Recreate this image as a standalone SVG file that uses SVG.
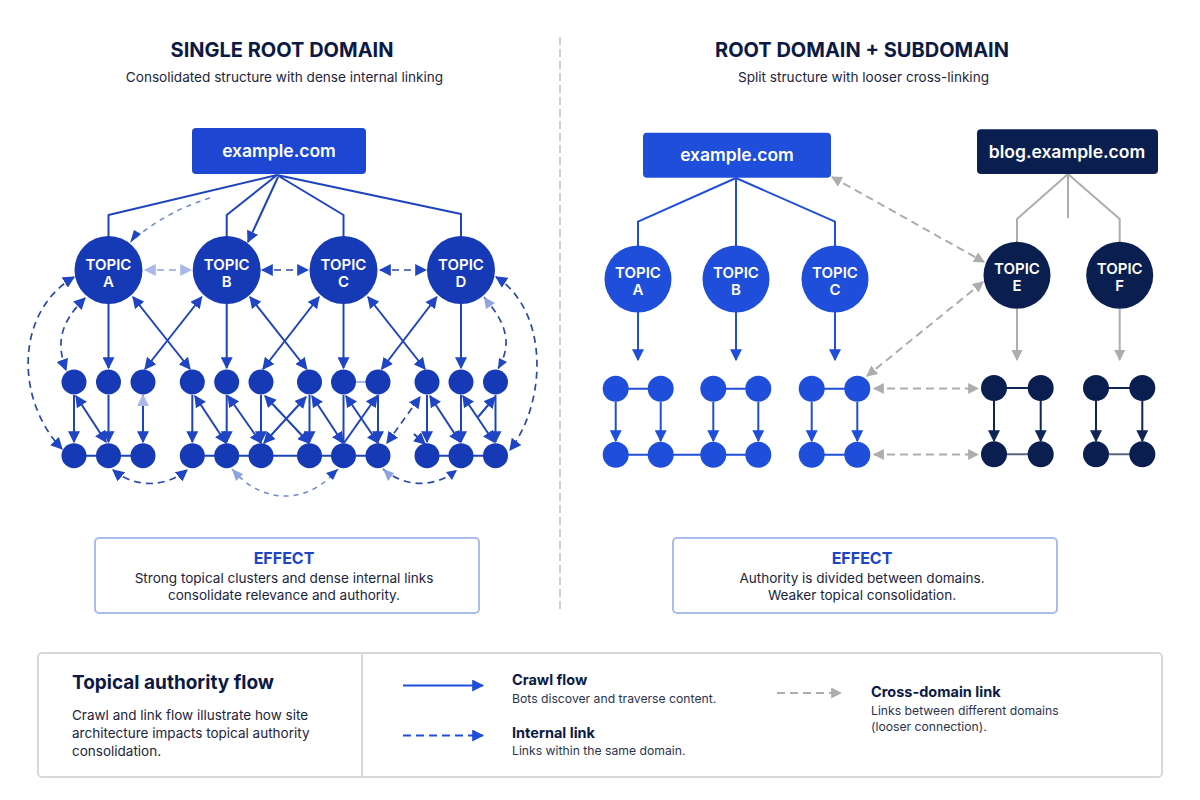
<svg xmlns="http://www.w3.org/2000/svg" width="1200" height="800" viewBox="0 0 1200 800">
<style>
text{font-family:Inter,"Liberation Sans",sans-serif}
.title{font-size:20px;font-weight:700;fill:#0b1a45;text-anchor:middle}
.sub{font-size:13.6px;fill:#1b2540;text-anchor:middle}
.root{font-size:17.5px;font-weight:600;fill:#fff;text-anchor:middle}
.tp{font-size:15px;font-weight:600;fill:#fff;text-anchor:middle}
.eh{font-size:16px;font-weight:700;fill:#1c45c4;text-anchor:middle}
.eb{font-size:13.55px;fill:#1b2540;text-anchor:middle}
.lh{font-size:14.5px;font-weight:700;fill:#0b1a45}
.ld{font-size:12.2px;fill:#2a3350}
.ln{fill:none;stroke-linejoin:round}
.d{fill:#1639b6}.b{fill:#1f4edb}.n{fill:#0a1f50}
.s{stroke:#1d44bd;stroke-width:2}
.sb{stroke:#1f4edb;stroke-width:2}
.sn{stroke:#0e2558;stroke-width:2}
.dash{stroke:#2a49ad;stroke-width:1.7;stroke-dasharray:7 5}
.pale{stroke:#a9b8e8;stroke-width:2;stroke-dasharray:7 5}
.fade{stroke:#6f86cf;stroke-width:1.5;stroke-dasharray:5 5}
.g{stroke:#adadad;stroke-width:2}
.gd{stroke:#adadad;stroke-width:2;stroke-dasharray:8 5}
.arr{marker-end:url(#ma)}
.bi{marker-start:url(#ma);marker-end:url(#ma)}
.arrb{marker-end:url(#mb)}
.arrn{marker-end:url(#mn)}
.arrg{marker-end:url(#mg)}
.big{marker-start:url(#mg);marker-end:url(#mg)}
.bip{marker-start:url(#mp);marker-end:url(#mp)}
</style>
<defs>
<marker id="ma" viewBox="0 0 10 10" refX="9" refY="5" markerWidth="12" markerHeight="12" markerUnits="userSpaceOnUse" orient="auto-start-reverse"><path d="M0 0L10 5L0 10Z" fill="#1f45c4"/></marker>
<marker id="mb" viewBox="0 0 10 10" refX="9" refY="5" markerWidth="12" markerHeight="12" markerUnits="userSpaceOnUse" orient="auto-start-reverse"><path d="M0 0L10 5L0 10Z" fill="#1f4edb"/></marker>
<marker id="mn" viewBox="0 0 10 10" refX="9" refY="5" markerWidth="12" markerHeight="12" markerUnits="userSpaceOnUse" orient="auto-start-reverse"><path d="M0 0L10 5L0 10Z" fill="#0e2558"/></marker>
<marker id="mg" viewBox="0 0 10 10" refX="9" refY="5" markerWidth="11" markerHeight="11" markerUnits="userSpaceOnUse" orient="auto-start-reverse"><path d="M0 0L10 5L0 10Z" fill="#adadad"/></marker>
<marker id="mp" viewBox="0 0 10 10" refX="9" refY="5" markerWidth="12" markerHeight="12" markerUnits="userSpaceOnUse" orient="auto-start-reverse"><path d="M0 0L10 5L0 10Z" fill="#a9b8e8"/></marker>
</defs>
<rect width="1200" height="800" fill="#fff"/>

<g id="headings">
<text class="title" x="282" y="57">SINGLE ROOT DOMAIN</text>
<text class="sub" x="284.500" y="82">Consolidated structure with dense internal linking</text>
<text class="title" x="862" y="57">ROOT DOMAIN + SUBDOMAIN</text>
<text class="sub" x="863.500" y="82">Split structure with looser cross-linking</text>
</g>
<line id="divider" x1="560" y1="37" x2="560" y2="613" stroke="#cfcfcf" stroke-width="2" stroke-dasharray="8 4"/>

<g id="connectors" class="ln">
<!-- left: root to topics -->
<path class="s" d="M277 175L108.500 215V237M277 175L226.700 215V237M277 175L343.500 215V237M277 175L461 214V237"/>
<path class="s arr" d="M278 177L248 242"/>
<path class="fade" d="M210 198Q165 212 133 240"/>
<path d="M141 234L130 243L134 230Z" fill="#1f45c4"/>
<!-- left: topic to topic -->
<path class="pale bip" d="M145 270H191"/>
<path class="dash bi" d="M262 270H308"/>
<path class="dash bi" d="M380 270H426"/>
<!-- left: topics down -->
<path class="s arr" d="M108.500 304V368"/>
<path class="s arr" d="M226.700 304V368"/>
<path class="s arr" d="M343.500 304V368"/>
<path class="s arr" d="M461 304V368"/>
<path class="s bi" d="M133 297L190 369"/>
<path class="s bi" d="M201.700 297L145 369"/>
<path class="s bi" d="M250 297L306.700 369"/>
<path class="s bi" d="M319 297L263 369"/>
<path class="s bi" d="M368 297L425 369"/>
<path class="s bi" d="M436.700 297L381.700 369"/>
<!-- left: arcs -->
<path class="dash bi" d="M74 277C15 312 15 400 62 449"/>
<path class="dash bi" d="M85 298C58 325 57 345 66 370"/>
<path class="dash bi" d="M496 277C548 310 548 400 510 450"/>
<path class="dash" d="M484 297C508 325 512 345 498 369"/>
<path d="M484 297L495 303L486 309Z" fill="#8fa3e0"/>
<path d="M498 369L499 358L507 362Z" fill="#1f45c4"/>
<path class="dash bi" d="M113 470C135 488 165 488 187 470"/>
<path class="fade" d="M232 469C262 505 308 505 338 469"/>
<path d="M232 469L243 474L236 481Z" fill="#8fa3e0"/>
<path d="M338 469L333 480L326 473Z" fill="#1f45c4"/>
<path class="dash" d="M383 469C405 488 435 488 457 470"/>
<path d="M383 469L394 473L388 481Z" fill="#8fa3e0"/>
<path d="M457 470L452 480L446 472Z" fill="#1f45c4"/>
<!-- left: row links -->
<path class="s" d="M74 455.700H143M192.300 455.700H378M427 455.700H495.500"/>
<path stroke="#a9b8e8" stroke-width="2" d="M343.500 382H378"/>
<path class="s arr" d="M74 395V442"/>
<path class="s arr" d="M108.500 395V442"/>
<path class="s arr" d="M143 395V442"/>
<path class="s bi" d="M76 396L106 442"/>
<path d="M143 394L149 406H137Z" fill="#a9b8e8"/>
<path class="s arr" d="M192.300 395V442"/>
<path class="s arr" d="M226.700 395V442"/>
<path class="s arr" d="M261 395V442"/>
<path class="s bi" d="M195 396L226 443"/>
<path class="s bi" d="M228 396L261 443"/>
<path class="s bi" d="M265 396L309 443"/>
<path class="s bi" d="M264 443L306 397"/>
<path class="s arr" d="M309.500 395V442"/>
<path class="s" d="M343.500 395V442"/>
<path class="s arr" d="M378 395V442"/>
<path class="s bi" d="M312 396L343 443"/>
<path class="s arr" d="M344 443L377 396"/>
<path class="s bi" d="M346 396L378 443"/>
<path class="dash bi" d="M387 443L420 397"/>
<path class="s arr" d="M427 395V442"/>
<path class="s arr" d="M461 395V442"/>
<path class="s arr" d="M495.500 395V442"/>
<path class="s bi" d="M430 396L460 442"/>
<path class="s bi" d="M463 396L494 442"/>
<path class="s arr" d="M478 417L495 397"/>
<path class="s arr" d="M414 434L425 444"/>

<!-- right: example.com -->
<path class="sb" d="M736 178L638 221.700V246M736 178V246M736 178L835 221.700V246"/>
<path class="sb arrb" d="M638 312V360"/>
<path class="sb arrb" d="M736 312V360"/>
<path class="sb arrb" d="M835 312V360"/>
<path class="sb" d="M615.700 388.700H660.700M713.300 388.700H758.300M811.700 388.700H857.300M615.700 454.700H758.300M811.700 454.700H857.300"/>
<path class="sb arrb" d="M615.700 402V441"/>
<path class="sb arrb" d="M660.700 402V441"/>
<path class="sb arrb" d="M713.300 402V441"/>
<path class="sb arrb" d="M758.300 402V441"/>
<path class="sb arrb" d="M811.700 402V441"/>
<path class="sb arrb" d="M857.300 402V441"/>
<!-- right: blog -->
<path class="g" d="M1068 174L1017 219V242M1068 174V218M1068 174L1119.700 219V242"/>
<path class="g arrg" d="M1017 309V360"/>
<path class="g arrg" d="M1119.700 309V360"/>
<path class="sn" d="M994 388H1040.700M1096 388H1142.300"/>
<path d="M994 454.300H1040.700M1096 454.300H1142.300" stroke="#5a6580" stroke-width="2"/>
<path class="sn arrn" d="M994 401V441"/>
<path class="sn arrn" d="M1040.700 401V441"/>
<path class="sn arrn" d="M1096 401V441"/>
<path class="sn arrn" d="M1142.300 401V441"/>
<!-- right: cross domain -->
<path class="gd big" d="M832 177L984 262"/>
<path class="gd big" d="M983 282L867 376"/>
<path class="gd big" d="M874 388.500H978"/>
<path class="gd big" d="M874 454.500H978"/>
</g>

<g id="root-left"><rect x="192" y="128" width="174" height="46" rx="4" fill="#1d47d2"/><text class="root" x="279" y="156.500">example.com</text></g>
<g id="topic-a"><circle class="d" cx="108.500" cy="270" r="34"/><text class="tp" x="108.500" y="270">TOPIC</text><text class="tp" x="108.500" y="287">A</text></g>
<g id="topic-b"><circle class="d" cx="226.700" cy="270" r="34"/><text class="tp" x="226.700" y="270">TOPIC</text><text class="tp" x="226.700" y="287">B</text></g>
<g id="topic-c"><circle class="d" cx="343.500" cy="270" r="34"/><text class="tp" x="343.500" y="270">TOPIC</text><text class="tp" x="343.500" y="287">C</text></g>
<g id="topic-d"><circle class="d" cx="461" cy="270" r="34"/><text class="tp" x="461" y="270">TOPIC</text><text class="tp" x="461" y="287">D</text></g>
<g id="left-pages" class="d">
<circle cx="74" cy="382" r="12.500"/><circle cx="108.500" cy="382" r="12.500"/><circle cx="143" cy="382" r="12.500"/>
<circle cx="192.300" cy="382" r="12.500"/><circle cx="226.700" cy="382" r="12.500"/><circle cx="261" cy="382" r="12.500"/>
<circle cx="309.500" cy="382" r="12.500"/><circle cx="343.500" cy="382" r="12.500"/><circle cx="378" cy="382" r="12.500"/>
<circle cx="427" cy="382" r="12.500"/><circle cx="461" cy="382" r="12.500"/><circle cx="495.500" cy="382" r="12.500"/>
<circle cx="74" cy="455.700" r="12.500"/><circle cx="108.500" cy="455.700" r="12.500"/><circle cx="143" cy="455.700" r="12.500"/>
<circle cx="192.300" cy="455.700" r="12.500"/><circle cx="226.700" cy="455.700" r="12.500"/><circle cx="261" cy="455.700" r="12.500"/>
<circle cx="309.500" cy="455.700" r="12.500"/><circle cx="343.500" cy="455.700" r="12.500"/><circle cx="378" cy="455.700" r="12.500"/>
<circle cx="427" cy="455.700" r="12.500"/><circle cx="461" cy="455.700" r="12.500"/><circle cx="495.500" cy="455.700" r="12.500"/>
</g>

<g id="root-right"><rect x="643" y="132.700" width="188" height="45" rx="4" fill="#1f4edb"/><text class="root" x="737" y="161">example.com</text></g>
<g id="root-blog"><rect x="977" y="129.300" width="181" height="44.700" rx="4" fill="#0a1f50"/><text class="root" x="1067" y="157.500">blog.example.com</text></g>
<g id="topic-ra"><circle class="b" cx="638" cy="279" r="33.500"/><text class="tp" x="638" y="278">TOPIC</text><text class="tp" x="638" y="295">A</text></g>
<g id="topic-rb"><circle class="b" cx="736" cy="279" r="33.500"/><text class="tp" x="736" y="278">TOPIC</text><text class="tp" x="736" y="295">B</text></g>
<g id="topic-rc"><circle class="b" cx="835" cy="279" r="33.500"/><text class="tp" x="835" y="278">TOPIC</text><text class="tp" x="835" y="295">C</text></g>
<g id="topic-e"><circle class="n" cx="1017" cy="275.300" r="33.500"/><text class="tp" x="1017" y="274">TOPIC</text><text class="tp" x="1017" y="291">E</text></g>
<g id="topic-f"><circle class="n" cx="1119.700" cy="275.300" r="33.500"/><text class="tp" x="1119.700" y="274">TOPIC</text><text class="tp" x="1119.700" y="291">F</text></g>
<g id="right-pages" class="b">
<circle cx="615.700" cy="388.700" r="13"/><circle cx="660.700" cy="388.700" r="13"/><circle cx="713.300" cy="388.700" r="13"/><circle cx="758.300" cy="388.700" r="13"/><circle cx="811.700" cy="388.700" r="13"/><circle cx="857.300" cy="388.700" r="13"/>
<circle cx="615.700" cy="454.700" r="13"/><circle cx="660.700" cy="454.700" r="13"/><circle cx="713.300" cy="454.700" r="13"/><circle cx="758.300" cy="454.700" r="13"/><circle cx="811.700" cy="454.700" r="13"/><circle cx="857.300" cy="454.700" r="13"/>
</g>
<g id="blog-pages" class="n">
<circle cx="994" cy="388" r="13"/><circle cx="1040.700" cy="388" r="13"/><circle cx="1096" cy="388" r="13"/><circle cx="1142.300" cy="388" r="13"/>
<circle cx="994" cy="454.300" r="13"/><circle cx="1040.700" cy="454.300" r="13"/><circle cx="1096" cy="454.300" r="13"/><circle cx="1142.300" cy="454.300" r="13"/>
</g>

<g id="effect-left"><rect x="95" y="538" width="384" height="75" rx="4" fill="#fff" stroke="#a9bcec" stroke-width="2"/>
<text class="eh" x="284" y="563.500">EFFECT</text><text class="eb" x="284" y="582.500">Strong topical clusters and dense internal links</text><text class="eb" x="284" y="600">consolidate relevance and authority.</text></g>
<g id="effect-right"><rect x="673" y="538" width="384" height="75" rx="4" fill="#fff" stroke="#a9bcec" stroke-width="2"/>
<text class="eh" x="862" y="563.500">EFFECT</text><text class="eb" x="862" y="582.500" font-size="13">Authority is divided between domains.</text><text class="eb" x="862" y="600">Weaker topical consolidation.</text></g>

<g id="legend">
<rect x="38" y="653" width="1124" height="124" rx="4" fill="#fff" stroke="#d8d8d8" stroke-width="2"/>
<line x1="362" y1="653" x2="362" y2="777" stroke="#d8d8d8" stroke-width="2"/>
<text x="72" y="689" font-size="19" font-weight="700" fill="#0b1a45">Topical authority flow</text>
<text x="72" y="720" font-size="13.500" fill="#1b2540">Crawl and link flow illustrate how site</text>
<text x="72" y="738" font-size="13.500" fill="#1b2540">architecture impacts topical authority</text>
<text x="72" y="756" font-size="13.500" fill="#1b2540">consolidation.</text>
<path class="ln" d="M403 685.500H483" stroke="#1f4edb" stroke-width="2" marker-end="url(#mb)"/>
<path class="ln" d="M403 735.500H483" stroke="#1f4edb" stroke-width="2" stroke-dasharray="8 5" marker-end="url(#mb)"/>
<path class="ln" d="M777 693H841" stroke="#adadad" stroke-width="2" stroke-dasharray="8 5" marker-end="url(#mg)"/>
<text class="lh" x="512" y="685">Crawl flow</text><text class="ld" x="512" y="703">Bots discover and traverse content.</text>
<text class="lh" x="512" y="738">Internal link</text><text class="ld" x="512" y="755">Links within the same domain.</text>
<text class="lh" x="871" y="697">Cross-domain link</text><text class="ld" x="871" y="715">Links between different domains</text><text class="ld" x="871" y="731">(looser connection).</text>
</g>
</svg>
